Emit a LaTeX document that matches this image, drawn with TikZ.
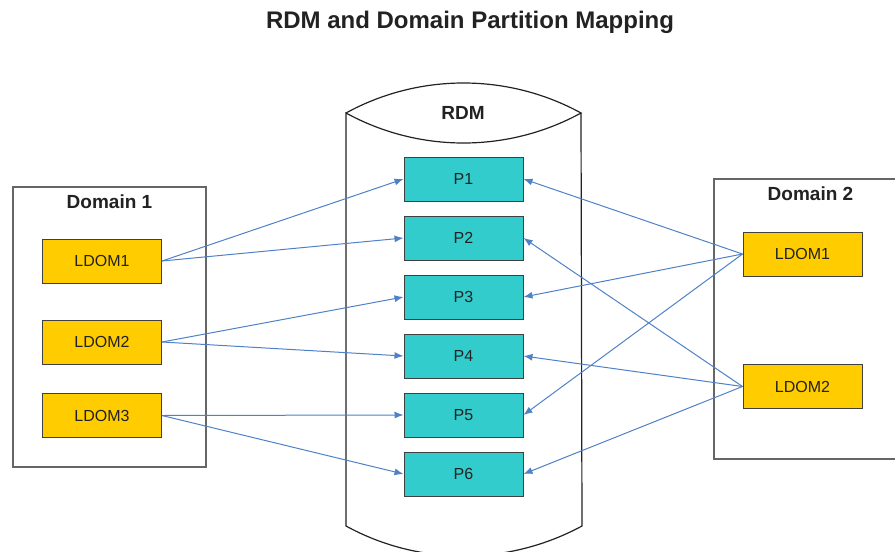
\documentclass[tikz,border=0pt]{standalone}
\usepackage{fontspec}
\setmainfont{Liberation Sans}
\usetikzlibrary{positioning,arrows.meta}
\definecolor{rdmBlue}{RGB}{79,129,201}
\definecolor{rdmCyan}{RGB}{51,204,204}
\definecolor{rdmGold}{RGB}{255,204,0}
\definecolor{rdmInk}{RGB}{34,34,34}
\definecolor{rdmEdge}{RGB}{64,64,64}

\begin{document}
\begin{tikzpicture}[x=1pt, y=-1pt,
    ldom/.style={draw=rdmEdge, line width=1pt, fill=rdmGold, text=rdmInk,
      minimum width=119pt, minimum height=44pt, inner sep=0pt,
      font=\fontsize{16}{19}\selectfont},
    part/.style={draw=rdmEdge, line width=1pt, fill=rdmCyan, text=rdmInk,
      minimum width=119pt, minimum height=44pt, inner sep=0pt,
      font=\fontsize{16}{19}\selectfont},
    domainbox/.style={draw=rdmEdge!80, line width=1.4pt, fill=white,
      minimum width=193pt, minimum height=280pt, inner sep=0pt},
    heading/.style={text=rdmInk, font=\fontsize{19}{22}\selectfont\bfseries},
    arrow/.style={-{Latex[length=9pt,width=7pt]}, line width=1pt, color=rdmBlue}
  ]
    \useasboundingbox (0,0) rectangle (895,552);
    \node[text=rdmInk, font=\fontsize{24}{28}\selectfont\bfseries] (title) at (470,22)
      {RDM and Domain Partition Mapping};

    % RDM cylinder
    \draw[rdmInk, line width=1.2pt] (346,113) .. controls (419,73) and (508,73) .. (581,113)
      .. controls (508,153) and (419,153) .. (346,113) -- (346,526)
      .. controls (419,566) and (508,566) .. (582,526) -- (581,113);
    \node[heading] (rdm) at (463,113) {RDM};

    \node[part] (p1) at (463.5,179) {P1};
    \node[part, below=14pt of p1] (p2) {P2};
    \node[part, below=14pt of p2] (p3) {P3};
    \node[part, below=14pt of p3] (p4) {P4};
    \node[part, below=14pt of p4] (p5) {P5};
    \node[part, below=14pt of p5] (p6) {P6};

    % Domain 1
    \node[domainbox] (dom1) at (109.5,327) {};
    \node[heading, below=5pt of dom1.north] (dom1title) {Domain 1};
    \node[ldom] (la) at (102,261) {LDOM1};
    \node[ldom] (lb) at (102,342) {LDOM2};
    \node[ldom] (lc) at (102,415.5) {LDOM3};

    % Domain 2
    \node[domainbox] (dom2) at (810.5,319) {};
    \node[heading, below=5pt of dom2.north] (dom2title) {Domain 2};
    \node[ldom] (ra) at (802.5,254) {LDOM1};
    \node[ldom] (rb) at (802.5,386.5) {LDOM2};

    \draw[arrow] (la.east) -- (p1.west);
    \draw[arrow] (la.east) -- (p2.west);
    \draw[arrow] (lb.east) -- (p3.west);
    \draw[arrow] (lb.east) -- (p4.west);
    \draw[arrow] (lc.east) -- (p5.west);
    \draw[arrow] (lc.east) -- (p6.west);
    \draw[arrow] (ra.west) -- (p1.east);
    \draw[arrow] (ra.west) -- (p3.east);
    \draw[arrow] (ra.west) -- (p5.east);
    \draw[arrow] (rb.west) -- (p2.east);
    \draw[arrow] (rb.west) -- (p4.east);
    \draw[arrow] (rb.west) -- (p6.east);
  \end{tikzpicture}
\end{document}
